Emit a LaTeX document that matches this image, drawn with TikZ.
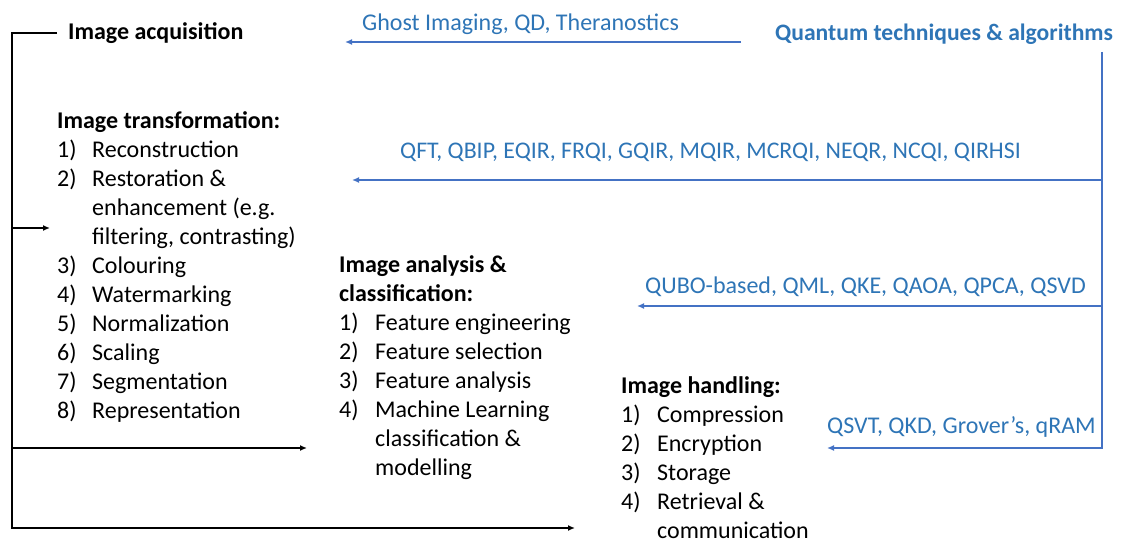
\documentclass[tikz,border=0pt]{standalone}
\usepackage{fontspec}
\setmainfont{Carlito}
\usetikzlibrary{arrows.meta}
\definecolor{qtext}{HTML}{2E75B6}
\definecolor{qblue}{HTML}{4472C4}
\begin{document}
\begin{tikzpicture}[x=1pt,y=-1pt,
  lbl/.style={inner sep=0pt,anchor=base west,font=\fontsize{24}{29}\selectfont},
  qlbl/.style={lbl,text=qtext},
  kline/.style={line width=1.5pt,black},
  karrow/.style={kline,-{Latex[length=7pt,width=6pt]}},
  qlinestyle/.style={line width=1.5pt,draw=qblue},
  qarrow/.style={qlinestyle,-{Latex[length=7pt,width=6pt]}}]
\path[use as bounding box] (0,0) rectangle (1121,543);

% stage nodes
\node[lbl] (acq) at (68,40) {\textbf{Image acquisition}};
\node[lbl] (trf) at (57,128) {\begin{tabular}[t]{@{}p{35pt}@{}l@{}}
\multicolumn{2}{@{}l@{}}{\textbf{Image transformation:}}\\
1) & Reconstruction\\
2) & Restoration \&\\
   & enhancement (e.g.\\
   & filtering, contrasting)\\
3) & Colouring\\
4) & Watermarking\\
5) & Normalization\\
6) & Scaling\\
7) & Segmentation\\
8) & Representation
\end{tabular}};
\node[lbl] (ana) at (339,272) {\begin{tabular}[t]{@{}p{36pt}@{}l@{}}
\multicolumn{2}{@{}l@{}}{\textbf{Image analysis \&}}\\
\multicolumn{2}{@{}l@{}}{\textbf{classification:}}\\
1) & Feature engineering\\
2) & Feature selection\\
3) & Feature analysis\\
4) & Machine Learning\\
   & classification \&\\
   & modelling
\end{tabular}};
\node[lbl] (han) at (621,393) {\begin{tabular}[t]{@{}p{36pt}@{}l@{}}
\multicolumn{2}{@{}l@{}}{\textbf{Image handling:}}\\
1) & Compression\\
2) & Encryption\\
3) & Storage\\
4) & Retrieval \&\\
   & communication\\[-8pt]
\end{tabular}};

% quantum labels
\node[qlbl,font=\fontsize{23.6}{28}\selectfont] (qt) at (775,41) {\textbf{Quantum techniques \& algorithms}};
\node[qlbl] (l0) at (362,31) {Ghost Imaging, QD, Theranostics};
\node[qlbl,font=\fontsize{23.85}{29}\selectfont] (l1) at (400,158) {QFT, QBIP, EQIR, FRQI, GQIR, MQIR, MCRQI, NEQR, NCQI, QIRHSI};
\node[qlbl] (l2) at (645,293) {QUBO-based, QML, QKE, QAOA, QPCA, QSVD};
\node[qlbl] (l3) at (827,433) {QSVT, QKD, Grover’s, qRAM};

% black connectors
\coordinate (k0) at (57,33);
\coordinate (kc) at (12,33);
\coordinate (b1) at (12,228);
\coordinate (e1) at (50,228);
\coordinate (b2) at (12,448);
\coordinate (e2) at (307,448);
\coordinate (e3) at (575,528);
\draw[karrow] (k0) -- (kc) |- (e3);
\draw[karrow] (b1) -- (e1);
\draw[karrow] (b2) -- (e2);

% blue connectors
\coordinate (g0) at (741,42);
\coordinate (g1) at (345,42);
\draw[qarrow] (g0) -- (g1);
\coordinate (qtop) at (1102,52);
\coordinate (j1) at (1102,180);
\coordinate (t1) at (352,180);
\coordinate (j2) at (1102,306);
\coordinate (t2) at (637,306);
\coordinate (t3) at (827,448);
\draw[qarrow] (qtop) |- (t3);
\draw[qarrow] (j1) -- (t1);
\draw[qarrow] (j2) -- (t2);
\end{tikzpicture}
\end{document}
